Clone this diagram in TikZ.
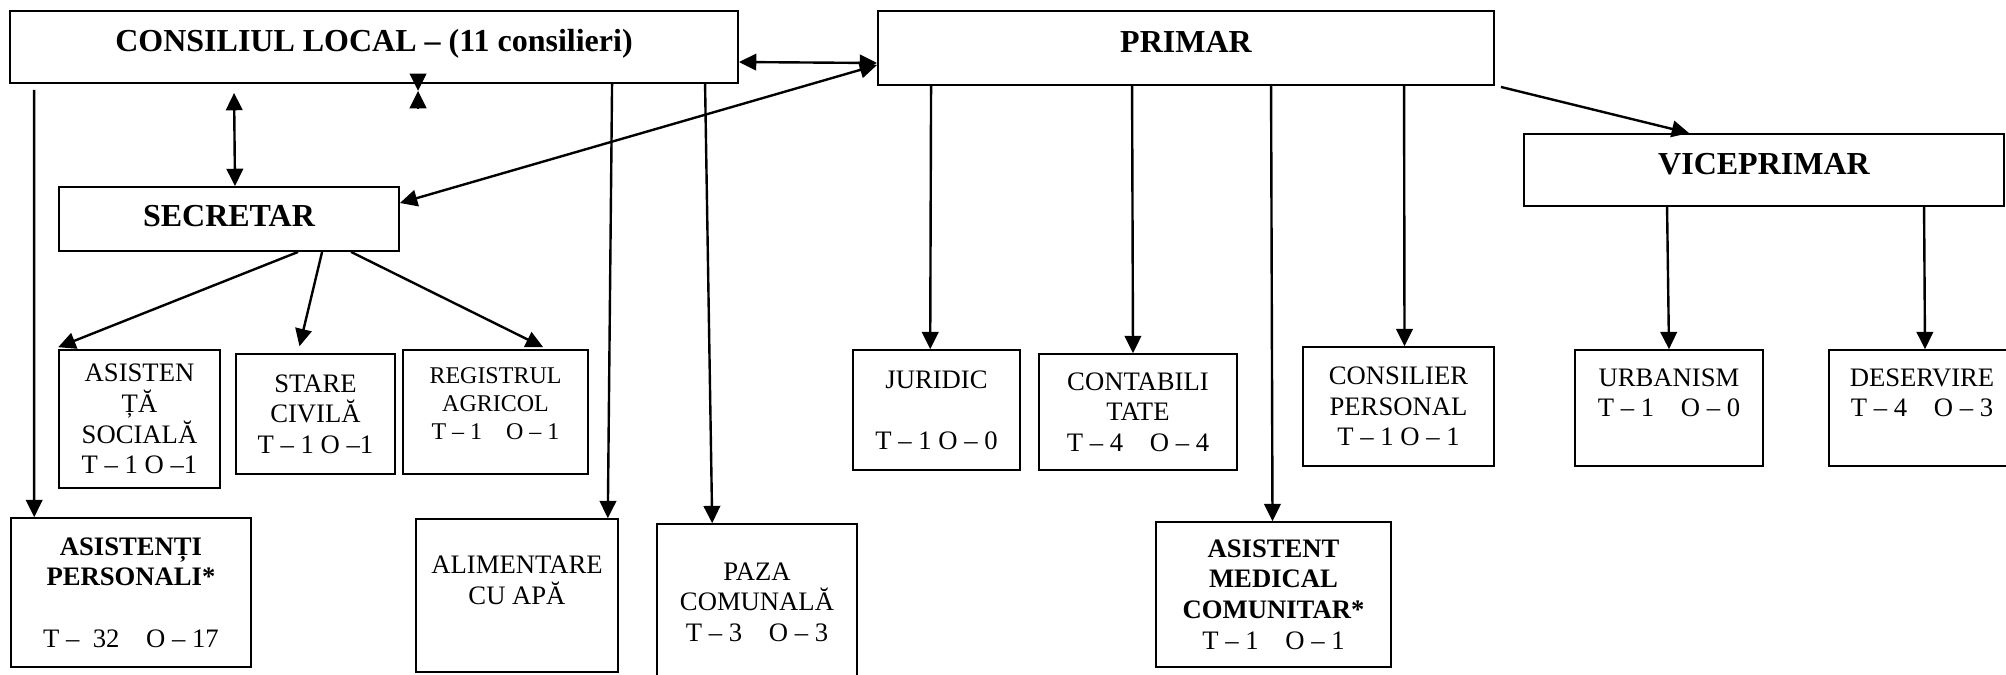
\documentclass[tikz,border=0pt]{standalone}
\usepackage{fontspec}
\setmainfont{Liberation Serif}
\usetikzlibrary{arrows.meta, calc}
\tikzset{
    office/.style={
        rectangle, draw=black, line width=0.7pt,
        inner sep=2pt, font=\fontsize{12}{14}\selectfont\bfseries,
        text height=9pt, text depth=5.5pt
    },
    unit/.style={
        rectangle, draw=black, line width=0.6pt,
        inner sep=2pt, align=center,
        font=\fontsize{10}{11.5}\selectfont
    },
    boxw/.style={minimum width=#1*0.375pt},
    boxh/.style={minimum height=#1*0.375pt},
    wire/.style={draw=black, line width=0.9pt, -{Triangle[length=6.5pt, width=6.2pt]}},
    bothwire/.style={draw=black, line width=0.9pt,
        {Triangle[length=6.5pt, width=6.2pt]}-{Triangle[length=6.5pt, width=6.2pt]}}
}

\begin{document}
\begin{tikzpicture}[x=0.375pt, y=-0.375pt]

\useasboundingbox (0,0) rectangle (2006,674);
\fill[white] (0,0) rectangle (2006,674);
\clip (0,0) rectangle (2006,674);

% Council, mayor, vice-mayor, secretary
\node[office, boxw=728, boxh=72] (cl) at (374,47) {CONSILIUL LOCAL – (11 consilieri)};
\node[office, boxw=616, boxh=74] (pr) at (1186,48) {PRIMAR};
\node[office, boxw=480, boxh=72] (vice) at (1764,170) {VICEPRIMAR};
\node[office, boxw=340, boxh=64, text depth=3.2pt] (sec) at (229,219) {SECRETAR};

% Units under the secretary
\node[unit, boxw=161, boxh=138] (asoc) at (139.5,419) {ASISTEN\\ȚĂ\\SOCIALĂ\\T – 1 O –1};
\node[unit, boxw=159, boxh=120] (stare) at (315.5,414) {STARE\\CIVILĂ\\T – 1 O –1};
\node[unit, boxw=185, boxh=124, font=\fontsize{9}{10.5}\selectfont] (reg) at (495.5,412) {REGISTRUL\\AGRICOL\\T – 1\quad O – 1\\[-4pt]~};

% Units under the council (bottom row)
\node[unit, boxw=240, boxh=149] (apers) at (131,592.5) {\textbf{ASISTENȚI}\\\textbf{PERSONALI*}\\~\\T –\ \ 32\quad O – 17};
\node[unit, boxw=202, boxh=153] (alim) at (517,595.5) {ALIMENTARE\\CU APĂ\\~};
\node[unit, boxw=200, boxh=156] (paza) at (757,602) {PAZA\\COMUNALĂ\\T – 3\quad O – 3};

% Units under the mayor
\node[unit, boxw=167, boxh=120] (jur) at (936.5,410) {JURIDIC\\~\\T – 1 O – 0};
\node[unit, boxw=198, boxh=116] (cont) at (1138,412) {CONTABILI\\TATE\\T – 4\quad O – 4};
\node[unit, boxw=191, boxh=119] (cons) at (1398.5,406.5) {CONSILIER\\PERSONAL\\T – 1 O – 1};
\node[unit, boxw=235, boxh=145] (asmed) at (1273.5,594.5) {\textbf{ASISTENT}\\\textbf{MEDICAL}\\\textbf{COMUNITAR*}\\T – 1\quad O – 1};

% Units under the vice-mayor
\node[unit, boxw=188, boxh=116] (urb) at (1669,408) {URBANISM\\T – 1\quad O – 0\\~};
\node[unit, boxw=186, boxh=116] (des) at (1922,408) {DESERVIRE\\T – 4\quad O – 3\\~};

% Top level links
\draw[bothwire] ($(cl.east)+(0,15)$) -- ($(pr.west)+(0,15)$);
\draw[bothwire] ($(pr.west)+(0,17)$) -- ($(sec.east)+(0,-16)$);
\draw[bothwire] ($(cl.south west)+(225,9)$) -- ($(sec.north)+(6,0)$);
\draw[wire] ($(cl.south west)+(409,-10)$) -- ++(0,17);
\draw[wire] ($(cl.south west)+(409,24)$) -- ++(0,-17);
\draw[wire] ($(pr.south east)+(6,1)$) -- ($(vice.north west)+(166,0)$);

% Council
\draw[wire] ($(cl.south west)+(25,6)$) -- ($(apers.north west)+(24,0)$);
\draw[wire] ($(cl.south west)+(603,0)$) -- ($(alim.north east)+(-11,0)$);
\draw[wire] ($(cl.south west)+(696,0)$) -- ($(paza.north west)+(56,0)$);

% Secretary
\draw[wire] ($(sec.south west)+(240,0)$) -- ($(asoc.north west)+(0,-2)$);
\draw[wire] ($(sec.south west)+(264,0)$) -- ($(stare.north)+(-16,-7)$);
\draw[wire] ($(sec.south west)+(293,0)$) -- ($(reg.north west)+(141,-2)$);

% Mayor
\draw[wire] ($(pr.south west)+(54,0)$) -- ($(jur.north west)+(78,0)$);
\draw[wire] ($(pr.south west)+(255,0)$) -- ($(cont.north)+(-5,0)$);
\draw[wire] ($(pr.south west)+(394,0)$) -- ($(asmed.north)+(-1,0)$);
\draw[wire] ($(pr.south west)+(527,0)$) -- ($(cons.north)+(6,0)$);

% Vice-mayor
\draw[wire] ($(vice.south west)+(144,0)$) -- (urb.north);
\draw[wire] ($(vice.south west)+(401,0)$) -- ($(des.north)+(3,0)$);

\end{tikzpicture}
\end{document}
